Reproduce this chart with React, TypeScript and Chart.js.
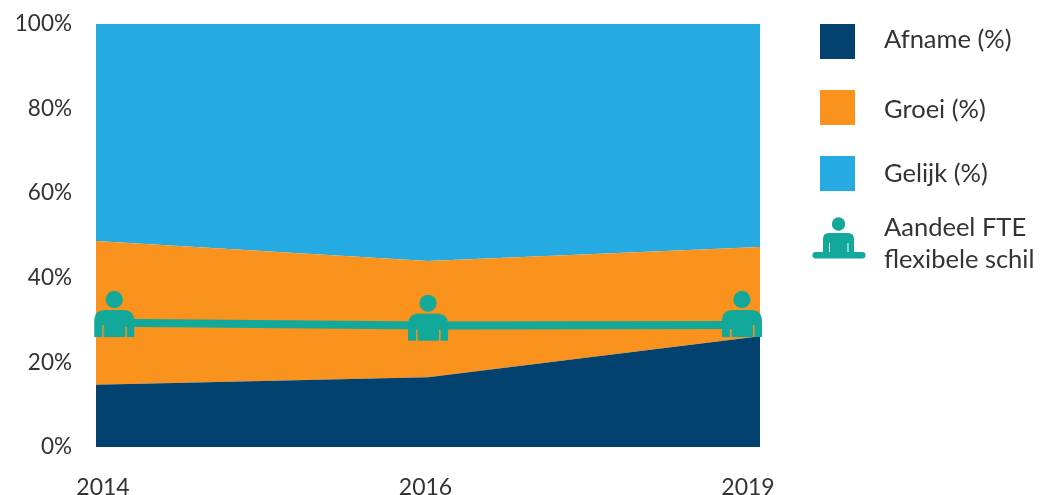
import React, { useEffect, useRef } from "react";
import { Chart, registerables } from "chart.js";

Chart.register(...registerables);

const categories = ["2014", "2016", "2019"];
const afname = [14.7, 16.5, 26.2];
const groei = [34.0, 27.5, 21.1];
const gelijk = [51.3, 56.0, 52.7];
const aandeelLine = [29.4, 28.7, 28.85];
const aandeelIcon = [29.3, 28.45, 29.3];
const yTicks = [0, 20, 40, 60, 80, 100];
const legendNames = ["Afname (%)", "Groei (%)", "Gelijk (%)"];
const legendColors = ["#03426F", "#F9931D", "#25AAE1"];
const lastLegend = ["Aandeel FTE", "flexibele schil"];
const TEAL = "#12A89A";
const FONT = 'Lato, "Liberation Sans", Arial, sans-serif';

function makePerson(): HTMLCanvasElement {
  const c = document.createElement("canvas");
  c.width = 42;
  c.height = 64;
  const g = c.getContext("2d")!;
  g.fillStyle = TEAL;
  const cx = 21;
  g.beginPath();
  g.arc(cx, 8.5, 8.6, 0, Math.PI * 2);
  g.fill();
  g.beginPath();
  g.moveTo(1, 46);
  g.lineTo(1, 30);
  g.quadraticCurveTo(1, 19, 12, 19);
  g.lineTo(30, 19);
  g.quadraticCurveTo(41, 19, 41, 30);
  g.lineTo(41, 46);
  g.lineTo(33.5, 46);
  g.lineTo(33.5, 34);
  g.lineTo(32, 34);
  g.lineTo(32, 46);
  g.lineTo(10.5, 46);
  g.lineTo(10.5, 34);
  g.lineTo(9, 34);
  g.lineTo(9, 46);
  g.closePath();
  g.fill();
  return c;
}

export default function App() {
  const ref = useRef<HTMLCanvasElement>(null);
  useEffect(() => {
    const person = makePerson();
    const hiddenLinear = (min: number, max: number) => ({
      type: "linear" as const,
      display: false,
      min,
      max,
    });
    const chart = new Chart(ref.current!, {
      type: "line",
      data: {
        labels: categories,
        datasets: [
          {
            label: "Afname (%)",
            data: afname,
            backgroundColor: legendColors[0],
            borderWidth: 0,
            fill: "origin",
            pointRadius: 0,
            stack: "a",
            yAxisID: "y",
            xAxisID: "x",
            order: 3,
          },
          {
            label: "Groei (%)",
            data: groei,
            backgroundColor: legendColors[1],
            borderWidth: 0,
            fill: "-1",
            pointRadius: 0,
            stack: "a",
            yAxisID: "y",
            xAxisID: "x",
            order: 3,
          },
          {
            label: "Gelijk (%)",
            data: gelijk,
            backgroundColor: legendColors[2],
            borderWidth: 0,
            fill: "-1",
            pointRadius: 0,
            stack: "a",
            yAxisID: "y",
            xAxisID: "x",
            order: 3,
          },
          {
            label: "Aandeel FTE flexibele schil",
            data: aandeelLine.map((v, i) => ({ x: i, y: v })),
            borderColor: TEAL,
            borderWidth: 8,
            borderCapStyle: "butt",
            tension: 0,
            fill: false,
            pointRadius: 0,
            stack: "b",
            yAxisID: "y2",
            xAxisID: "xIcon",
            order: 2,
          },
          {
            label: "Aandeel FTE icon",
            data: aandeelIcon.map((v, i) => ({ x: i, y: v })),
            showLine: false,
            fill: false,
            clip: false,
            pointStyle: person,
            pointRadius: 20,
            stack: "c",
            yAxisID: "y2",
            xAxisID: "xIcon",
            order: 1,
          },
        ] as any,
      },
      options: {
        responsive: false,
        animation: false,
        parsing: undefined,
        layout: { padding: { top: 24, right: 280, bottom: 0, left: 0 } },
        plugins: { legend: { display: false }, tooltip: { enabled: false } },
        scales: {
          x: {
            type: "category",
            display: false,
            offset: false,
          },
          xLabels: {
            type: "linear",
            position: "bottom",
            min: (96 - 103) / 322.5,
            max: (760 - 103) / 322.5,
            grid: { display: false },
            border: { display: false },
            afterBuildTicks: (axis: any) => {
              axis.ticks = categories.map((_, i) => ({ value: i }));
            },
            afterFit: (axis: any) => {
              axis.height = 48;
              axis.paddingLeft = 0;
              axis.paddingRight = 0;
            },
            ticks: {
              autoSkip: false,
              maxRotation: 0,
              padding: 19,
              color: "#333333",
              font: { family: FONT, size: 23 },
              callback: (v: any) => categories[Number(v)] ?? "",
            },
          },
          xIcon: hiddenLinear((96 - 114.2) / 313.85, 2 + (760 - 741.9) / 313.85),
          y: {
            type: "linear",
            stacked: true,
            min: 0,
            max: 100,
            grid: { display: false },
            border: { display: false },
            afterBuildTicks: (axis: any) => {
              axis.ticks = yTicks.map((value) => ({ value }));
            },
            afterFit: (axis: any) => {
              axis.width = 96;
              axis.paddingTop = 0;
              axis.paddingBottom = 0;
            },
            ticks: {
              padding: 16,
              color: "#333333",
              font: { family: FONT, size: 22.5 },
              callback: (v: any) => `${v}%`,
            },
          },
          y2: { type: "linear", display: false, min: 0, max: 100 },
        },
      } as any,
    });
    return () => chart.destroy();
  }, []);

  const label: React.CSSProperties = {
    position: "absolute",
    left: 884,
    fontFamily: FONT,
    fontSize: 25.5,
    lineHeight: "32px",
    color: "#333333",
    whiteSpace: "nowrap",
  };
  const swatchTops = [24, 90, 156];
  const labelCenters = [38, 108, 172];
  return (
    <div style={{ position: "fixed", left: 0, top: 0, width: 1040, height: 495, background: "#fff", overflow: "hidden" }}>
      <canvas ref={ref} width={1040} height={495} style={{ position: "absolute", left: 0, top: 0, width: 1040, height: 495 }} />
      {legendNames.map((n, i) => (
        <React.Fragment key={n}>
          <div style={{ position: "absolute", left: 820, top: swatchTops[i], width: 35, height: 35, background: legendColors[i] }} />
          <div style={{ ...label, top: labelCenters[i] - 16 }}>{n}</div>
        </React.Fragment>
      ))}
      <svg style={{ position: "absolute", left: 810, top: 215 }} width={58} height={46} viewBox="0 0 58 46">
        <circle cx={28.5} cy={9} r={6.7} fill={TEAL} />
        <path d="M13 38 V24 Q13 18 19 18 H38 Q44 18 44 24 V38 H38.5 V28 H37.5 V38 H20 V28 H19 V38 Z" fill={TEAL} />
        <rect x={2.5} y={37} width={53} height={6.4} rx={3.2} fill={TEAL} />
      </svg>
      <div style={{ ...label, top: 210 }}>{lastLegend[0]}</div>
      <div style={{ ...label, top: 242 }}>{lastLegend[1]}</div>
    </div>
  );
}
